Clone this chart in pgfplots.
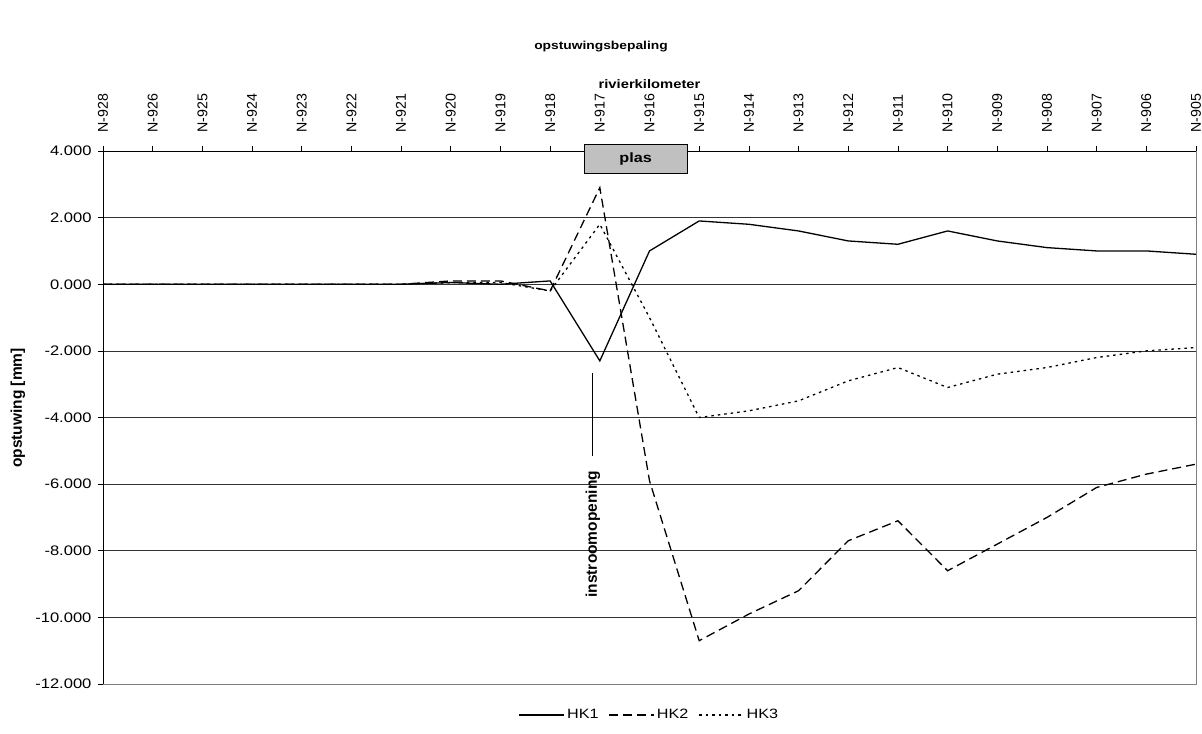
\documentclass[border=0pt]{standalone}
\usepackage{pgfplots}
\pgfplotsset{compat=1.18}
\usepackage{fontspec}
\setmainfont{Liberation Sans}[FakeStretch=1.2]
\newfontfamily\plainfont{Liberation Sans}
\definecolor{plasgray}{RGB}{192,192,192}
\begin{document}
\begin{tikzpicture}
\begin{axis}[
  name=ax,
  scale only axis, width=1093pt, height=533pt,
  xmin=0, xmax=22, ymin=-12, ymax=4,
  xtick={0,...,22},
  xticklabels={N-928,N-926,N-925,N-924,N-923,N-922,N-921,N-920,N-919,N-918,N-917,N-916,N-915,N-914,N-913,N-912,N-911,N-910,N-909,N-908,N-907,N-906,N-905},
  xtick pos=right, xticklabel pos=right,
  ytick={-12,-10,-8,-6,-4,-2,0,2,4},
  yticklabels={-12.000,-10.000,-8.000,-6.000,-4.000,-2.000,0.000,2.000,4.000},
  ytick pos=left,
  tick align=outside, major tick length=5pt,
  tick style={black, line width=0.6pt},
  ymajorgrids, major grid style={draw=black!80, line width=0.6pt},
  axis line style={draw=gray, line width=0.8pt},
  xticklabel shift=10pt,
  yticklabel shift=3pt,
  xticklabel style={rotate=90, anchor=west, font=\plainfont\fontsize{14.2}{16}\selectfont},
  yticklabel style={font=\fontsize{13.8}{15}\selectfont},
  clip=false,
  legend style={at={(0.5,0)}, anchor=center, yshift=-31pt, draw=none, fill=none,
    font=\fontsize{13.5}{15}\selectfont, legend columns=3,
    /tikz/every even column/.append style={column sep=8pt}},
  legend cell align=left,
  legend image code/.code={\draw[#1] (0pt,0pt) -- (45pt,0pt);},
]
\addplot[black, line width=1.3pt] coordinates {
(0,0) (1,0) (2,0) (3,0) (4,0) (5,0) (6,0) (7,0.05) (8,0) (9,0.1) (10,-2.3) (11,1.0)
(12,1.9) (13,1.8) (14,1.6) (15,1.3) (16,1.2) (17,1.6) (18,1.3) (19,1.1) (20,1.0) (21,1.0) (22,0.9)};
\addlegendentry{HK1}
\addplot[black, line width=1.3pt, dash pattern=on 9pt off 5pt] coordinates {
(0,0) (1,0) (2,0) (3,0) (4,0) (5,0) (6,0) (7,0.1) (8,0.1) (9,-0.2) (10,2.9) (11,-5.9)
(12,-10.7) (13,-9.9) (14,-9.2) (15,-7.7) (16,-7.1) (17,-8.6) (18,-7.8) (19,-7.0) (20,-6.1) (21,-5.7) (22,-5.4)};
\addlegendentry{HK2}
\addplot[black, line width=1.3pt, dash pattern=on 2.5pt off 4pt] coordinates {
(0,0) (1,0) (2,0) (3,0) (4,0) (5,0) (6,0) (7,0.05) (8,0.05) (9,-0.2) (10,1.8) (11,-1.0)
(12,-4.0) (13,-3.8) (14,-3.5) (15,-2.9) (16,-2.5) (17,-3.1) (18,-2.7) (19,-2.5) (20,-2.2) (21,-2.0) (22,-1.9)};
\addlegendentry{HK3}
\draw[black, line width=0.8pt] (rel axis cs:0,0) -- (rel axis cs:0,1) -- (rel axis cs:1,1);
\draw[fill=plasgray, draw=black, line width=0.8pt] (axis cs:9.68,3.33) rectangle (axis cs:11.76,4.2);
\node[font=\bfseries\fontsize{13.5}{15}\selectfont] at (axis cs:10.72,3.765) {plas};
\draw[black, line width=1pt] (axis cs:9.86,-2.66) -- (axis cs:9.86,-5.16);
\node[rotate=90, anchor=east, inner sep=0pt, font=\plainfont\bfseries\fontsize{15.5}{17}\selectfont] at (axis cs:9.86,-5.6) {instroomopening};
\end{axis}
\node[font=\bfseries\fontsize{11.5}{13}\selectfont] at ([shift={(-48.5pt,104pt)}]ax.north) {opstuwingsbepaling};
\node[font=\bfseries\fontsize{12.3}{14}\selectfont] at ([yshift=67pt]ax.north) {rivierkilometer};
\node[rotate=90, font=\plainfont\bfseries\fontsize{15.5}{17}\selectfont] at ([shift={(-85pt,9.5pt)}]ax.west) {opstuwing [mm]};
\pgfresetboundingbox
\path ([shift={(-103pt,-49pt)}]ax.south west) rectangle ([shift={(6pt,151pt)}]ax.north east);
\end{tikzpicture}
\end{document}
